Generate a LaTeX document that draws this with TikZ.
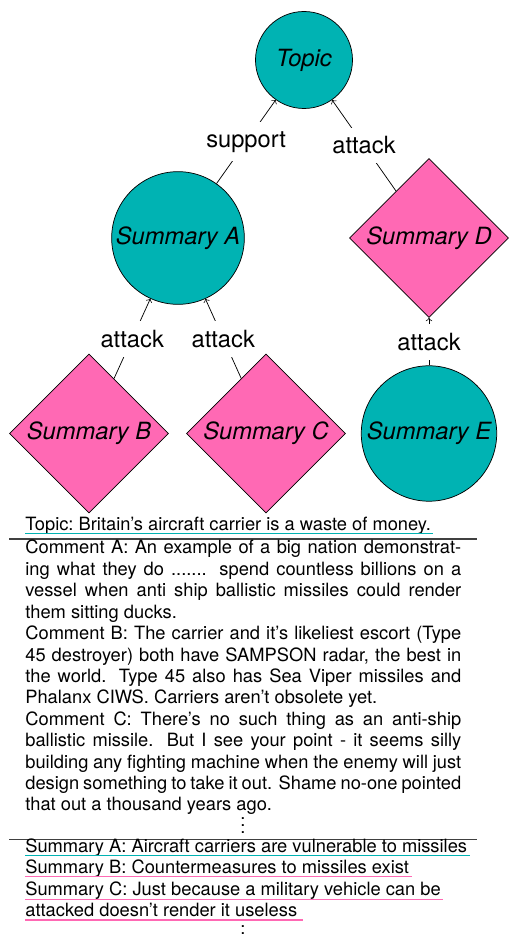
\documentclass[tikz,border=0pt]{standalone}
\usepackage{fontspec}
\setmainfont{TeX Gyre Heros}
\usepackage{xcolor}
\usepackage{tikz}
\usetikzlibrary{shapes.geometric, positioning}
\setlength{\parindent}{0pt}
\definecolor{argteal}{RGB}{0,179,179}
\definecolor{argpink}{RGB}{255,105,180}
\newcommand{\argnodefont}{\fontsize{12.95}{15}\selectfont\itshape}
\newcommand{\argrelfont}{\fontsize{12.95}{15}\selectfont}
\newcommand{\argtxtfont}{\fontsize{10}{11.7}\selectfont}

\begin{document}
\begin{tikzpicture}[>=to, x=0.5464pt, y=0.5464pt,
    circarg/.style={circle, draw, fill=argteal, inner sep=0pt, minimum size=#1, font=\argnodefont},
    diamarg/.style={diamond, draw, fill=argpink, aspect=1, inner sep=0pt, minimum size=86.9pt, font=\argnodefont},
    rel/.style={fill=white, inner xsep=2pt, inner ysep=5pt, font=\argrelfont},
    txt/.style={anchor=base west, inner sep=0pt, font=\argtxtfont},
    dots/.style={anchor=base, inner sep=0pt},
    ulteal/.style={argteal, line width=0.6pt},
    ulpink/.style={argpink, line width=0.6pt}]
    \useasboundingbox (0,0) rectangle (508,937);

    % Vẽ các nút
    \node[circarg=53pt] (topic) at (304,877) {Topic};
    \node[circarg=72.5pt] (sumA) at (178,699) {Summary A};
    \node[diamarg] (sumD) at (429,699) {Summary D};
    \node[diamarg] (sumB) at (89,503.5) {Summary B};
    \node[diamarg] (sumC) at (266,503.5) {Summary C};
    \node[circarg=74pt] (sumE) at (429,503.5) {Summary E};

    % Vẽ các cạnh
    \draw[->] (sumA) -- node[rel] {support} (topic);
    \foreach \a/\b in {sumD/topic, sumB/sumA, sumC/sumA, sumE/sumD} {
        \draw[->] (\a) -- node[rel] {attack} (\b);
    }

    % Phần văn bản
    \node[txt] (topicline) at (25,406.3)
        {Topic:\ Britain's aircraft carrier is a waste of money.};
    \draw[black!75, line width=0.6pt] (9.3,398) -- (477.3,398);
    \node[txt, text width=238.2pt, align=justify] (comments) at (25,383)
        {Comment A: An example of a big nation demonstrat-\linebreak ing what they do ....... spend countless billions on a\linebreak vessel when anti ship ballistic missiles could render\linebreak them sitting ducks.\par
        Comment B: The carrier and it's likeliest escort (Type\linebreak 45 destroyer) both have SAMPSON radar, the best in\linebreak the world. Type 45 also has Sea Viper missiles and\linebreak Phalanx CIWS. Carriers aren't obsolete yet.\par
        Comment C: There's no such thing as an anti-ship\linebreak ballistic missile. But I see your point - it seems silly\linebreak building any fighting machine when the enemy will just\linebreak design something to take it out. Shame no-one pointed\linebreak that out a thousand years ago.};
    \node[dots] (dotsA) at (243,103.2) {$\vdots$};
    \draw[black!75, line width=0.6pt] (9.3,97.7) -- (477.3,97.7);
    \node[txt] (sumlineA) at (25,84.7) {Summary A:\ Aircraft carriers are vulnerable to missiles};
    \node[txt] (sumlineB) at (25,63.7) {Summary B:\ Countermeasures to missiles exist};
    \node[txt] (sumlineC) at (25,41) {Summary C:\ Just because a military vehicle can be};
    \node[txt] (sumlineCc) at (25,20.3) {attacked doesn't render it useless};
    \node[dots] (dotsB) at (243,-4.8) {$\vdots$};

    % Gạch chân
    \draw[ulteal] ([yshift=-1.6pt]topicline.base west) -- ([xshift=1.2pt, yshift=-1.6pt]topicline.base east);
    \draw[ulteal] ([yshift=-1.8pt]sumlineA.base west) -- ([xshift=1.2pt, yshift=-1.8pt]sumlineA.base east);
    \draw[ulpink] ([yshift=-1.8pt]sumlineB.base west) -- ([xshift=1.2pt, yshift=-1.8pt]sumlineB.base east);
    \draw[ulpink] ([yshift=-1.8pt]sumlineC.base west) -- ([xshift=1.2pt, yshift=-1.8pt]sumlineC.base east);
    \draw[ulpink] ([yshift=-1.8pt]sumlineCc.base west) -- ([xshift=3pt, yshift=-1.8pt]sumlineCc.base east);
\end{tikzpicture}
\end{document}
